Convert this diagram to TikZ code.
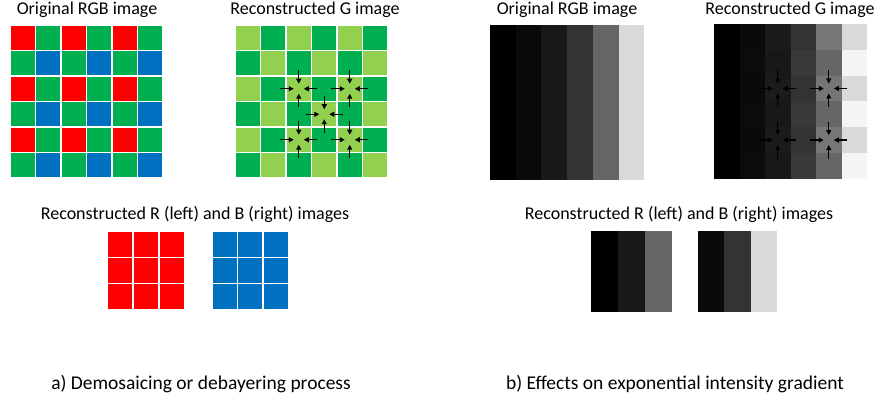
\documentclass[tikz,border=0pt]{standalone}
\usepackage{fontspec}
\setmainfont{Carlito}
\usetikzlibrary{arrows.meta}
\definecolor{bayerred}{HTML}{FF0000}
\definecolor{bayergreen}{HTML}{00B050}
\definecolor{bayerblue}{HTML}{0070C0}
\definecolor{lightgreen}{HTML}{92D050}
\tikzset{
  pixel/.style={draw=white, line width=1.2pt},
  label/.style={font=\fontsize{18}{21}\selectfont, text=black, inner sep=0pt},
  caption/.style={font=\fontsize{19.5}{23}\selectfont, text=black, inner sep=0pt},
  interp/.style={-{Triangle[length=5pt, width=5pt]}, line width=1.2pt, black},
}
% four arrows pointing into the cell centred at (#1,#2)
\newcommand{\gatherarrows}[2]{%
  \begin{scope}[shift={(#1,#2)}]
    \foreach \dx/\dy in {0/-1, 0/1, -1/0, 1/0}
      \draw[interp] (18.5*\dx, 18.5*\dy) -- (5*\dx, 5*\dy);
  \end{scope}}

\begin{document}
\begin{tikzpicture}[x=1pt, y=-1pt]
  \useasboundingbox (0,0) rectangle (877,398);

  % a) Bayer mosaic
  \foreach \r in {0,...,5}
    \foreach \c in {0,...,5}{
      \ifodd\r
        \ifodd\c \def\pc{bayerblue}\else\def\pc{bayergreen}\fi
      \else
        \ifodd\c \def\pc{bayergreen}\else\def\pc{bayerred}\fi
      \fi
      \filldraw[pixel, fill=\pc] (10+25.5*\c, 25+25.5*\r) rectangle ++(25.5, 25.5);
    }

  % a) reconstructed G
  \foreach \r in {0,...,5}
    \foreach \c in {0,...,5}{
      \pgfmathtruncatemacro{\parity}{mod(\r+\c,2)}
      \ifodd\parity \def\pc{bayergreen}\else\def\pc{lightgreen}\fi
      \filldraw[pixel, fill=\pc] (235+25.5*\c, 25+25.5*\r) rectangle ++(25.5, 25.5);
    }
  \foreach \r/\c in {2/2, 2/4, 3/3, 4/2, 4/4}{
    \gatherarrows{235+25.5*\c+12.75}{25+25.5*\r+12.75}
  }

  % a) reconstructed R and B
  \foreach \r in {0,1,2}
    \foreach \c in {0,1,2}{
      \filldraw[pixel, fill=bayerred] (107+26*\c, 231+26.3*\r) rectangle ++(26, 26.3);
      \filldraw[pixel, fill=bayerblue] (212+25.5*\c, 231+26.3*\r) rectangle ++(25.5, 26.3);
    }

  % b) exponential gradient
  \foreach \c/\v in {0/0, 1/10, 2/24, 3/51, 4/102, 5/217}{
    \definecolor{cellgray}{RGB}{\v,\v,\v}
    \fill[cellgray] (490+25.7*\c, 25) rectangle ++(25.7, 155);
  }

  % b) reconstructed G
  \foreach \c/\ve/\vo in {0/0/0, 1/10/11, 2/27/24, 3/51/57, 4/118/102, 5/217/245}
    \foreach \r in {0,...,5}{
      \ifodd\r \let\v\vo \else \let\v\ve \fi
      \definecolor{cellgray}{RGB}{\v,\v,\v}
      \fill[cellgray] (714+25.5*\c, 24+25.8*\r) rectangle ++(25.5, 25.8);
    }
  \foreach \r/\c in {2/2, 2/4, 4/2, 4/4}{
    \gatherarrows{714+25.5*\c+12.75}{24+25.8*\r+12.9}
  }

  % b) reconstructed R and B
  \foreach \c/\v in {0/0, 1/24, 2/102}{
    \definecolor{cellgray}{RGB}{\v,\v,\v}
    \fill[cellgray] (591+27*\c, 231) rectangle ++(27, 81);
  }
  \foreach \c/\v in {0/10, 1/51, 2/217}{
    \definecolor{cellgray}{RGB}{\v,\v,\v}
    \fill[cellgray] (698+26.3*\c, 231) rectangle ++(26.3, 81);
  }

  % titles and captions
  \node[label] (origA)  at (87, 10)  {Original RGB image};
  \node[label] (greenA) at (315, 10) {Reconstructed G image};
  \node[label] (rbA)    at (195, 214) {Reconstructed R (left) and B (right) images};
  \node[caption] (capA) at (201, 384) {a) Demosaicing or debayering process};
  \node[label] (origB)  at (567, 10)  {Original RGB image};
  \node[label] (greenB) at (790, 10)  {Reconstructed G image};
  \node[label] (rbB)    at (679, 214) {Reconstructed R (left) and B (right) images};
  \node[caption] (capB) at (675, 384) {b) Effects on exponential intensity gradient};
\end{tikzpicture}
\end{document}
